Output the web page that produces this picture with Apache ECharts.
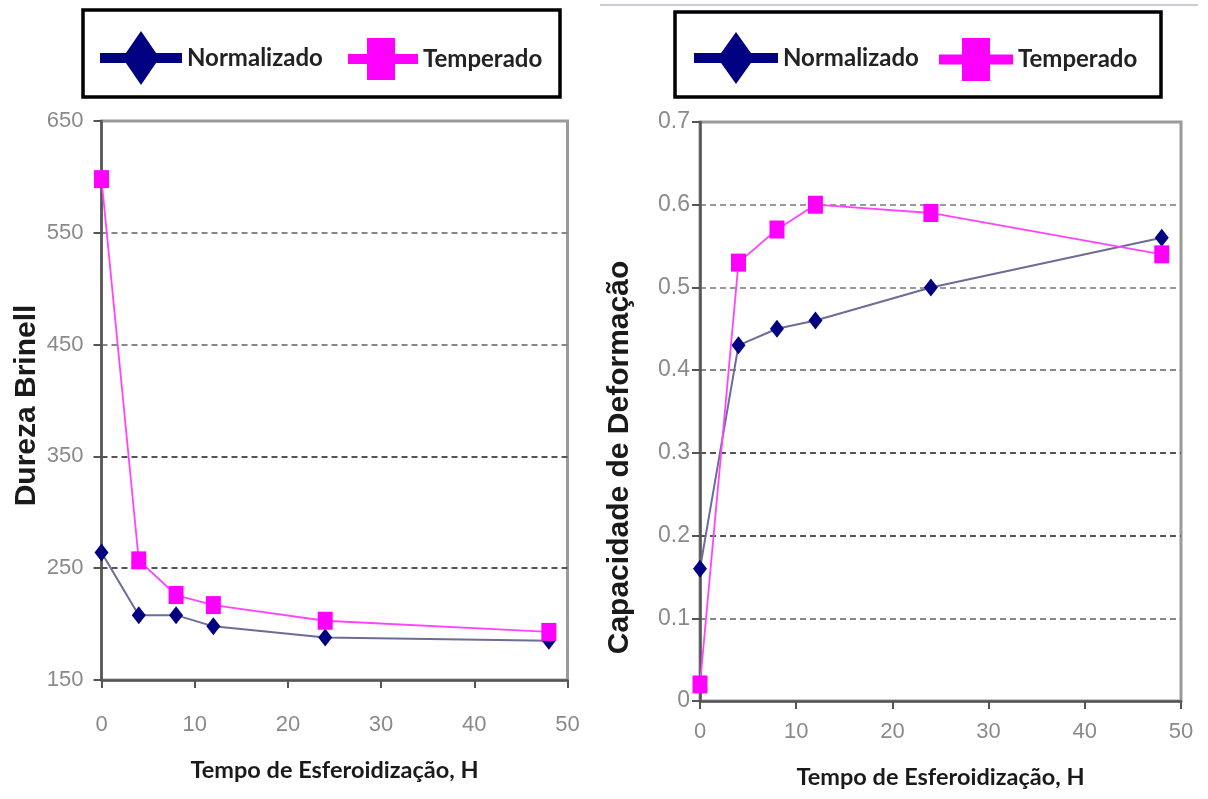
<!DOCTYPE html>
<html><head><meta charset="utf-8">
<script src="https://cdn.jsdelivr.net/npm/echarts@6/dist/echarts.min.js"></script>
<style>html,body{margin:0;padding:0;background:#fff}#c{width:1208px;height:799px}</style>
</head><body><div id="c"></div>
<script>
// ---- data ----
const hours = [0, 4, 8, 12, 24, 48];
const durezaNormalizado = [264, 208, 208, 198, 188, 185];
const durezaTemperado = [598, 257, 226, 217, 203, 193];
const capNormalizado = [0.16, 0.43, 0.45, 0.46, 0.50, 0.56];
const capTemperado = [0.02, 0.53, 0.57, 0.60, 0.59, 0.54];
const durezaTicks = [150, 250, 350, 450, 550, 650];
const capTicks = [0, 0.1, 0.2, 0.3, 0.4, 0.5, 0.6, 0.7];
const hourTicks = [0, 10, 20, 30, 40, 50];
const seriesNames = ['Normalizado', 'Temperado'];
const xTitle = 'Tempo de Esferoidização, H';
const yTitles = ['Dureza Brinell', 'Capacidade de Deformação'];

// ---- styles ----
const NAVY = '#000080', MAG = '#ff00ff';
function diamondIcon(w, h, t) {
  const c = h / 2, m = w / 2, dw = 18.5;
  return 'path://M0,' + (c - t/2) + ' L' + w + ',' + (c - t/2) + ' L' + w + ',' + (c + t/2) + ' L0,' + (c + t/2) + ' Z ' +
    'M' + m + ',0 L' + (m + dw) + ',' + c + ' L' + m + ',' + h + ' L' + (m - dw) + ',' + c + ' Z';
}
function squareIcon(w, h, t, sx, sw) {
  const c = h / 2;
  return 'path://M0,' + (c - t/2) + ' L' + w + ',' + (c - t/2) + ' L' + w + ',' + (c + t/2) + ' L0,' + (c + t/2) + ' Z ' +
    'M' + sx + ',0 L' + (sx + sw) + ',0 L' + (sx + sw) + ',' + h + ' L' + sx + ',' + h + ' Z';
}
const legendText = { fontFamily: 'Lato, Roboto, sans-serif', fontWeight: 'bold', fontSize: 24, color: '#222' };
function legendOf(name, icon, left, top, w, h) {
  return { data: [{ name: name, icon: icon }], left: left, top: top, itemWidth: w, itemHeight: h,
    padding: 0, symbolKeepAspect: false, selectedMode: false, textStyle: legendText };
}
const tickLabel = { fontFamily: '"Liberation Sans", Arial, sans-serif', fontSize: 22, color: '#8a8a8a' };
const axisLine = { show: true, lineStyle: { color: '#555', width: 2.5 } };
const axisTick = { show: true, length: 8, lineStyle: { color: '#555', width: 2 } };
const titleStyleL = { fontFamily: '"Liberation Sans", Arial, sans-serif', fontWeight: 'bold', fontSize: 30, color: '#1a1a1a', padding: [0, 10, 0, 0] };
const titleStyleR = { fontFamily: '"Liberation Sans", Arial, sans-serif', fontWeight: 'bold', fontSize: 30, color: '#1a1a1a', padding: [0, 92, 0, 0] };
const xTitleStyle = { fontFamily: 'Lato, Roboto, sans-serif', fontWeight: 'bold', fontSize: 23.5, color: '#1a1a1a' };
const T = 'rgba(0,0,0,0)';

function mk(vals) { return hours.map((h, i) => [h, vals[i]]); }
function normSeries(idx, vals) {
  return { name: seriesNames[0], type: 'line', xAxisIndex: idx, yAxisIndex: idx, data: mk(vals),
    symbol: 'diamond', symbolSize: [14, 18], itemStyle: { color: NAVY },
    lineStyle: { color: '#6c6c96', width: 2 }, z: 2 };
}
function tempSeries(idx, vals) {
  return { name: seriesNames[1], type: 'line', xAxisIndex: idx, yAxisIndex: idx, data: mk(vals),
    symbol: 'rect', symbolSize: [15, 18], itemStyle: { color: MAG },
    lineStyle: { color: '#ff44ff', width: 1.8 }, z: 3 };
}

const option = {
  animation: false,
  backgroundColor: '#fff',
  graphic: [
    { type: 'line', shape: { x1: 600, y1: 5, x2: 1198, y2: 5 }, style: { stroke: '#c9ccd8', lineWidth: 2 } },
    { type: 'rect', shape: { x: 83, y: 10, width: 477, height: 87 }, style: { fill: 'none', stroke: '#000', lineWidth: 3.5 } },
    { type: 'rect', shape: { x: 675, y: 12, width: 486, height: 85 }, style: { fill: 'none', stroke: '#000', lineWidth: 3.5 } }
  ],
  legend: [
    legendOf(seriesNames[0], diamondIcon(82, 54, 10), 100, 31, 82, 54),
    legendOf(seriesNames[1], squareIcon(70, 42, 10, 19, 28), 348, 38, 70, 42),
    legendOf(seriesNames[0], diamondIcon(84, 52, 10), 694, 32, 84, 52),
    legendOf(seriesNames[1], squareIcon(74, 43, 10, 23, 28), 939, 38, 74, 43)
  ],
  grid: [
    { left: 101.5, top: 121, width: 466, height: 559, show: true, borderColor: '#9a9a9a', borderWidth: 3, backgroundColor: 'transparent' },
    { left: 700, top: 122, width: 481, height: 579, show: true, borderColor: '#9a9a9a', borderWidth: 3, backgroundColor: 'transparent' }
  ],
  xAxis: [
    { gridIndex: 0, type: 'value', min: hourTicks[0], max: hourTicks[hourTicks.length - 1], interval: hourTicks[1] - hourTicks[0],
      axisLine: axisLine, axisTick: axisTick, splitLine: { show: false },
      axisLabel: Object.assign({ margin: 34 }, tickLabel),
      name: xTitle, nameLocation: 'middle', nameGap: 78, nameTextStyle: xTitleStyle },
    { gridIndex: 1, type: 'value', min: hourTicks[0], max: hourTicks[hourTicks.length - 1], interval: hourTicks[1] - hourTicks[0],
      axisLine: axisLine, axisTick: axisTick, splitLine: { show: false },
      axisLabel: Object.assign({ margin: 20 }, tickLabel),
      name: xTitle, nameLocation: 'middle', nameGap: 64, nameTextStyle: xTitleStyle }
  ],
  yAxis: [
    { gridIndex: 0, type: 'value', min: durezaTicks[0], max: durezaTicks[durezaTicks.length - 1], interval: durezaTicks[1] - durezaTicks[0],
      axisLine: axisLine, axisTick: axisTick,
      axisLabel: Object.assign({ margin: 18 }, tickLabel),
      splitLine: { show: true, lineStyle: { type: [6, 4], width: 2, color: [T, '#555', '#555', '#888', '#888', T] } },
      name: yTitles[0], nameLocation: 'middle', nameGap: 60, nameTextStyle: titleStyleL },
    { gridIndex: 1, type: 'value', min: capTicks[0], max: capTicks[capTicks.length - 1], interval: 0.1,
      axisLine: axisLine, axisTick: axisTick,
      axisLabel: Object.assign({ margin: 10 }, tickLabel, { fontSize: 23 }),
      splitLine: { show: true, lineStyle: { type: [6, 4], width: 2, color: [T, '#888', '#555', '#555', '#888', '#999', '#999', T] } },
      name: yTitles[1], nameLocation: 'middle', nameGap: 65, nameTextStyle: titleStyleR }
  ],
  series: [
    normSeries(0, durezaNormalizado),
    tempSeries(0, durezaTemperado),
    normSeries(1, capNormalizado),
    tempSeries(1, capTemperado)
  ]
};
const chart = echarts.init(document.getElementById('c'), null, { renderer: 'canvas' });
chart.setOption(option);
</script>
</body></html>
